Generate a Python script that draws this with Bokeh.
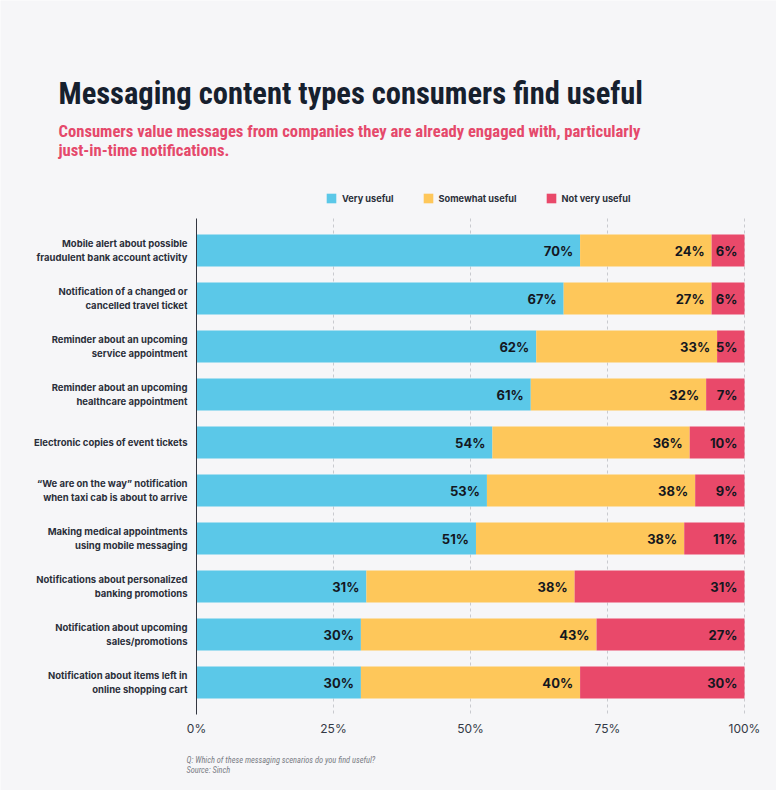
from bokeh.plotting import figure
from bokeh.models import ColumnDataSource, Range1d, Legend, LegendItem, Label
from bokeh.core.properties import value
from bokeh.embed import file_html
from bokeh.resources import INLINE

categories = [
    "Mobile alert about possible\nfraudulent bank account activity",
    "Notification of a changed or\ncancelled travel ticket",
    "Reminder about an upcoming\nservice appointment",
    "Reminder about an upcoming\nhealthcare appointment",
    "Electronic copies of event tickets",
    "\u201cWe are on the way\u201d notification\nwhen taxi cab is about to arrive",
    "Making medical appointments\nusing mobile messaging",
    "Notifications about personalized\nbanking promotions",
    "Notification about upcoming\nsales/promotions",
    "Notification about items left in\nonline shopping cart",
]
very_useful = [70, 67, 62, 61, 54, 53, 51, 31, 30, 30]
somewhat_useful = [24, 27, 33, 32, 36, 38, 38, 38, 43, 40]
not_very_useful = [6, 6, 5, 7, 10, 9, 11, 31, 27, 30]
series_names = ["Very useful", "Somewhat useful", "Not very useful"]
series_colors = ["#5BC8E8", "#FEC75A", "#E9496A"]
x_ticks = [0, 25, 50, 75, 100]
x_tick_labels = ["0%", "25%", "50%", "75%", "100%"]

BG = "#F6F6F8"
FONT = "Inter"
NARROW = "Liberation Sans Narrow, Roboto Condensed, Roboto"

W, H = 776, 790
# layout (pixels): plot area 0%..100% spans x 196..744, rows centred at 250 + 48*i
PX_LEFT, PX_RIGHT = 196, 744
ROW0, ROW_STEP = 250, 48
ppu = (PX_RIGHT - PX_LEFT) / 100.0
x_start = -PX_LEFT / ppu
x_end = 100 + (W - PX_RIGHT) / ppu
y_top = -ROW0 / ROW_STEP
y_bottom = (H - ROW0) / ROW_STEP
band_top = -0.5 - 8 / ROW_STEP
band_bottom = len(categories) - 0.5 + 8 / ROW_STEP

idx = list(range(len(categories)))
e1 = very_useful
e2 = [a + b for a, b in zip(very_useful, somewhat_useful)]
e3 = [a + b + c for a, b, c in zip(very_useful, somewhat_useful, not_very_useful)]

src = ColumnDataSource(dict(
    y=idx, cat=categories, zero=[0] * len(idx),
    l1=[0] * len(idx), r1=e1,
    l2=e1, r2=e2,
    l3=e2, r3=e3,
    t1=[f"{v}%" for v in very_useful],
    t2=[f"{v}%" for v in somewhat_useful],
    t3=[f"{v}%" for v in not_very_useful],
))

p = figure(
    width=W, height=H,
    x_range=Range1d(x_start, x_end), y_range=Range1d(y_bottom, y_top),
    output_backend="svg", toolbar_location=None,
    min_border=0, min_border_left=0, min_border_right=0, min_border_top=0, min_border_bottom=0,
    background_fill_color=BG, border_fill_color=BG, outline_line_color=None,
)
p.axis.visible = False
p.grid.visible = False

# dashed grid lines
grid_x = x_ticks[1:]
p.segment(x0=grid_x, x1=grid_x, y0=[band_top] * len(grid_x), y1=[band_bottom] * len(grid_x),
          line_color="#C9CACF", line_width=1, line_dash="3 3", level="underlay")

renderers = []
for i, col in enumerate(series_colors, start=1):
    r = p.hbar(y="y", left=f"l{i}", right=f"r{i}", height=0.667, source=src,
               fill_color=col, line_color=None)
    renderers.append(r)
    p.text(x=f"r{i}", y="y", text=f"t{i}", source=src, x_offset=-7,
           text_align="right", text_baseline="middle",
           text_font=value(FONT), text_font_style="bold", text_font_size="13px",
           text_color="#14171F")

# y axis line
p.segment(x0=[0], x1=[0], y0=[band_top], y1=[band_bottom], line_color="#333640", line_width=1)

# category labels
p.text(x="zero", y="y", text="cat", source=src, x_offset=-9,
       text_align="right", text_baseline="middle", text_line_height=1.3,
       text_font=value(FONT), text_font_style="bold", text_font_size="9.5px",
       text_color="#2B2F3A")

# x tick labels
p.text(x=x_ticks, y=[band_bottom] * len(x_ticks), text=x_tick_labels, y_offset=14,
       text_align="center", text_baseline="middle",
       text_font=value(FONT), text_font_style="normal", text_font_size="12px",
       text_color="#343945")

legend = Legend(
    items=[LegendItem(label=n, renderers=[r]) for n, r in zip(series_names, renderers)],
    orientation="horizontal", location=(325, H - 204),
    glyph_width=12, glyph_height=12, label_height=12, label_standoff=5, spacing=28,
    padding=0, margin=0, border_line_color=None, background_fill_alpha=0,
    label_text_font=FONT, label_text_font_size="9.2px", label_text_font_style="bold",
    label_text_color="#2B2F3A",
)
p.add_layout(legend, "center")

def lab(text, x, y, font, size, style, color):
    p.add_layout(Label(x=x, y=y, x_units="screen", y_units="screen", text=text,
                       text_font=font, text_font_size=size, text_font_style=style,
                       text_color=color, text_baseline="alphabetic", text_align="left"))

lab("Messaging content types consumers find useful", 58, H - 93, NARROW, "30.5px", "bold", "#16202E")
lab("Consumers value messages from companies they are already engaged with, particularly",
    58, H - 131, NARROW, "16.6px", "bold", "#E5496B")
lab("just-in-time notifications.", 58, H - 150, NARROW, "16.6px", "bold", "#E5496B")
lab("Q: Which of these messaging scenarios do you find useful?", 186, H - 759, NARROW, "8.4px", "italic", "#7A7D85")
lab("Source: Sinch", 186, H - 769, NARROW, "8.4px", "italic", "#7A7D85")

open("out.html", "w").write(file_html(p, INLINE))
